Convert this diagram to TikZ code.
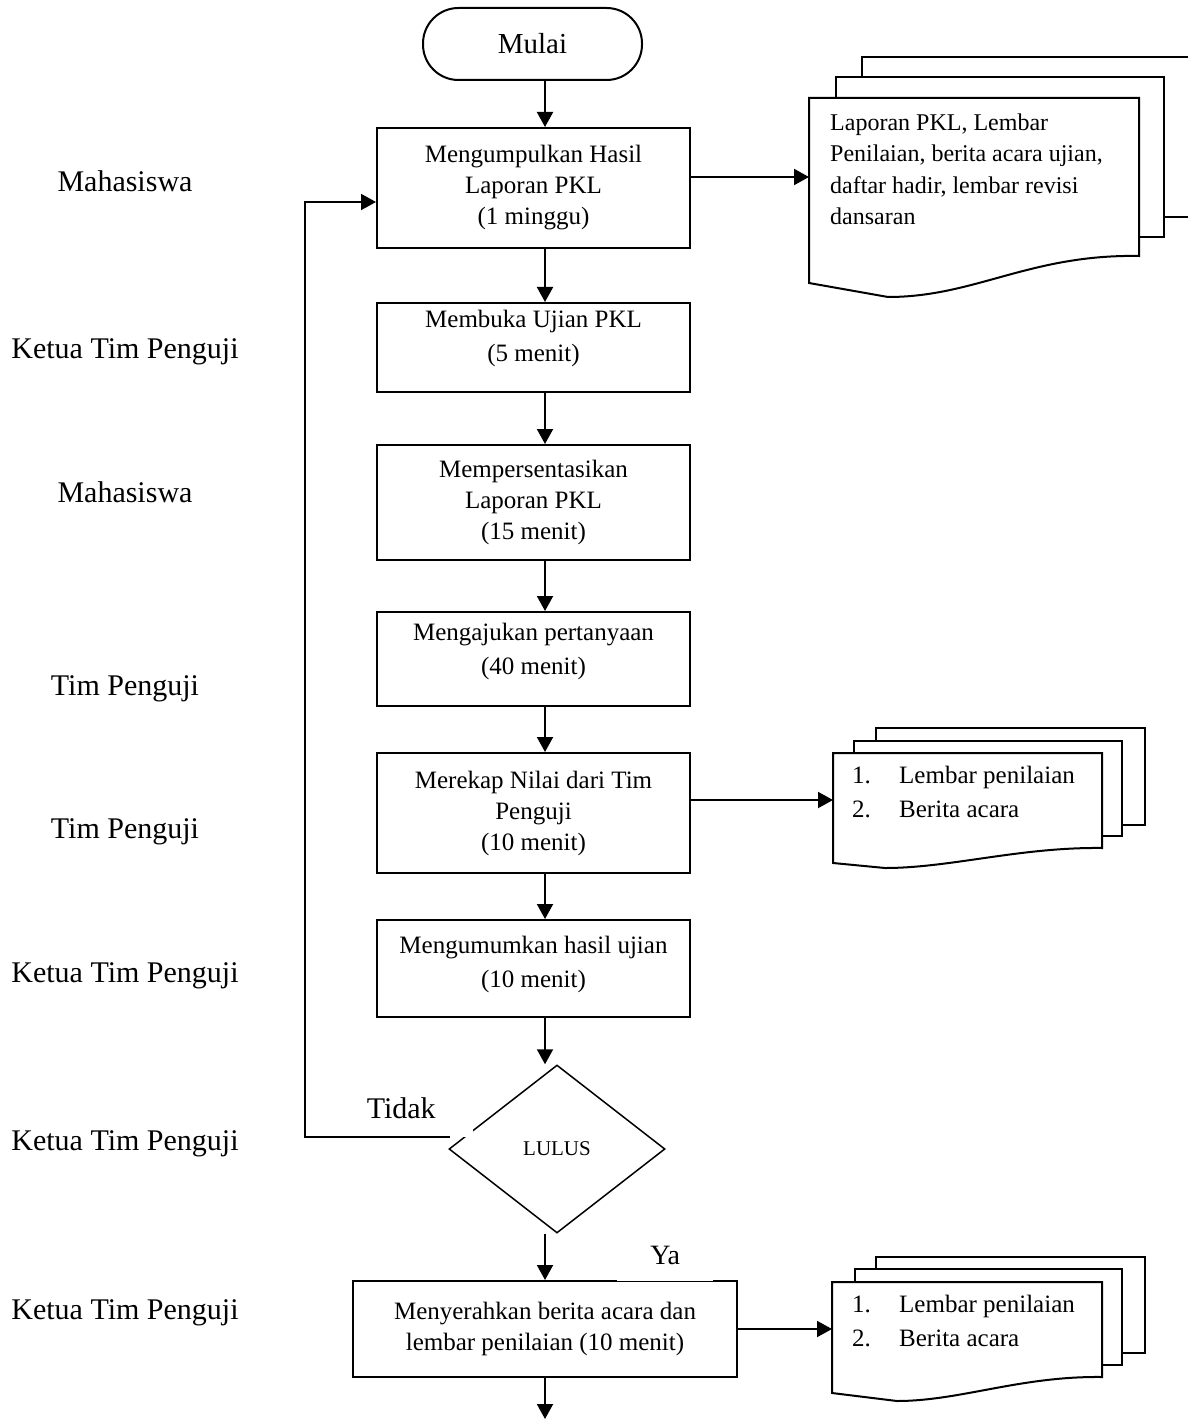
\documentclass[tikz,border=0pt]{standalone}
\usepackage{fontspec}
\setmainfont{Liberation Serif}
\usetikzlibrary{arrows.meta,shapes.geometric}
\begin{document}
\begin{tikzpicture}[x=1pt,y=1pt,
  box/.style={draw, line width=2pt, minimum width=313pt, align=center, inner sep=2pt, font=\fontsize{25}{31}\selectfont},
  boxtext/.style={align=center, inner sep=0pt, font=\fontsize{25}{34}\selectfont},
  arr/.style={line width=2pt, -{Triangle[length=15pt,width=16pt]}},
  side/.style={anchor=base, inner sep=0pt, font=\fontsize{30}{36}\selectfont},
  doc/.style={draw, fill=white, line width=2pt, line join=miter},
  doctext/.style={anchor=north west, align=left, inner sep=0pt},
]
\useasboundingbox (0,0) rectangle (1187,-1420);
\coordinate (ax) at (545,0);

% side labels
\node[side] (s1) at (125,-192) {Mahasiswa};
\node[side] (s2) at (125,-358) {Ketua Tim Penguji};
\node[side] (s3) at (125,-502) {Mahasiswa};
\node[side] (s4) at (125,-695) {Tim Penguji};
\node[side] (s5) at (125,-838) {Tim Penguji};
\node[side] (s6) at (125,-982) {Ketua Tim Penguji};
\node[side] (s7) at (125,-1150) {Ketua Tim Penguji};
\node[side] (s8) at (125,-1319) {Ketua Tim Penguji};

% flow
\node[draw, line width=2pt, rounded corners=35.5pt, minimum width=219pt, minimum height=72pt, font=\fontsize{29}{34}\selectfont] (start) at (532.5,-44) {Mulai};
\node[box, minimum height=120pt] (b1) at (533.5,-188) {Mengumpulkan Hasil\\Laporan PKL\\(1 minggu)};
\node[box, minimum height=89pt] (b2) at (533.5,-347.5) {};
\node[boxtext] (b2t) at (533.5,-338) {Membuka Ujian PKL\\(5 menit)};
\node[box, minimum height=115pt] (b3) at (533.5,-502.5) {Mempersentasikan\\Laporan PKL\\(15 menit)};
\node[box, minimum height=94pt] (b4) at (533.5,-659) {};
\node[boxtext] (b4t) at (533.5,-651) {Mengajukan pertanyaan\\(40 menit)};
\node[box, minimum height=120pt] (b5) at (533.5,-813) {Merekap Nilai dari Tim\\Penguji\\(10 menit)};
\node[box, minimum height=97pt] (b6) at (533.5,-968.5) {};
\node[boxtext] (b6t) at (533.5,-964) {Mengumumkan hasil ujian\\(10 menit)};
\node[diamond, draw, line width=1.5pt, minimum width=216pt, minimum height=168pt, inner sep=0pt, font=\fontsize{21}{25}\selectfont] (dec) at (557,-1149) {LULUS};
\node[box, minimum width=384pt, minimum height=96pt] (b7) at (545,-1329) {Menyerahkan berita acara dan\\lembar penilaian (10 menit)};

% document stack 1
\draw[doc] (862,-57) rectangle (1215,-217);
\draw[doc] (836,-77) rectangle (1164,-237);
\draw[doc] (809,-98) -- (1139,-98) -- (1139,-256) .. controls (1030,-254) and (975,-297) .. (888,-297) -- (809,-283) -- cycle;
\node[doctext, font=\fontsize{24}{31.5}\selectfont] (t1) at (830,-113.5) {Laporan PKL, Lembar\\Penilaian, berita acara ujian,\\daftar hadir, lembar revisi\\dansaran};
\coordinate (d1) at (809,-177);

% document stack 2
\draw[doc] (876,-728) rectangle (1145,-825);
\draw[doc] (854,-741) rectangle (1122,-836);
\draw[doc] (833,-753) -- (1102,-753) -- (1102,-848) .. controls (1020,-847) and (950,-868) .. (885,-868) -- (833,-863) -- cycle;
\node[doctext, font=\fontsize{25}{34}\selectfont] (t2) at (852,-766) {\makebox[47pt][l]{1.}Lembar penilaian\\\makebox[47pt][l]{2.}Berita acara};
\coordinate (d2) at (833,-800);

% document stack 3
\draw[doc] (876,-1257) rectangle (1145,-1353);
\draw[doc] (855,-1269) rectangle (1122,-1365);
\draw[doc] (832,-1282) -- (1102,-1282) -- (1102,-1377) .. controls (1020,-1376) and (960,-1401) .. (897,-1401) -- (832,-1393) -- cycle;
\node[doctext, font=\fontsize{25}{33.5}\selectfont] (t3) at (852,-1295) {\makebox[47pt][l]{1.}Lembar penilaian\\\makebox[47pt][l]{2.}Berita acara};
\coordinate (d3) at (832,-1329);

% labels with white backgrounds
\node[fill=white, inner sep=0pt, text width=106pt, align=left, minimum height=59pt, anchor=south east, font=\fontsize{30}{36}\selectfont] (tidak) at (473,-1137.5) {Tidak};
\node[fill=white, inner sep=0pt, minimum width=96pt, minimum height=50pt, anchor=south west, font=\fontsize{28}{34}\selectfont] (ya) at (617,-1281) {Ya};

% connectors
\draw[arr] (start.south -| ax) -- (b1.north -| ax);
\draw[arr] (b1.south -| ax) -- (b2.north -| ax);
\draw[arr] (b2.south -| ax) -- (b3.north -| ax);
\draw[arr] (b3.south -| ax) -- (b4.north -| ax);
\draw[arr] (b4.south -| ax) -- (b5.north -| ax);
\draw[arr] (b5.south -| ax) -- (b6.north -| ax);
\draw[arr] (b6.south -| ax) -- (dec.north -| ax);
\draw[arr] (dec.south -| ax) -- (b7.north);
\coordinate (endp) at (545,-1419);
\draw[arr] (b7.south) -- (endp);
\draw[arr] (b1.east |- d1) -- (d1);
\draw[arr] (b5.east |- d2) -- (d2);
\draw[arr] (b7.east |- d3) -- (d3);
\coordinate (tEnd) at (450,-1137);
\coordinate (lp) at (305,-202);
\draw[arr] (tEnd) -| (lp) -- (b1.west |- lp);
\end{tikzpicture}
\end{document}
